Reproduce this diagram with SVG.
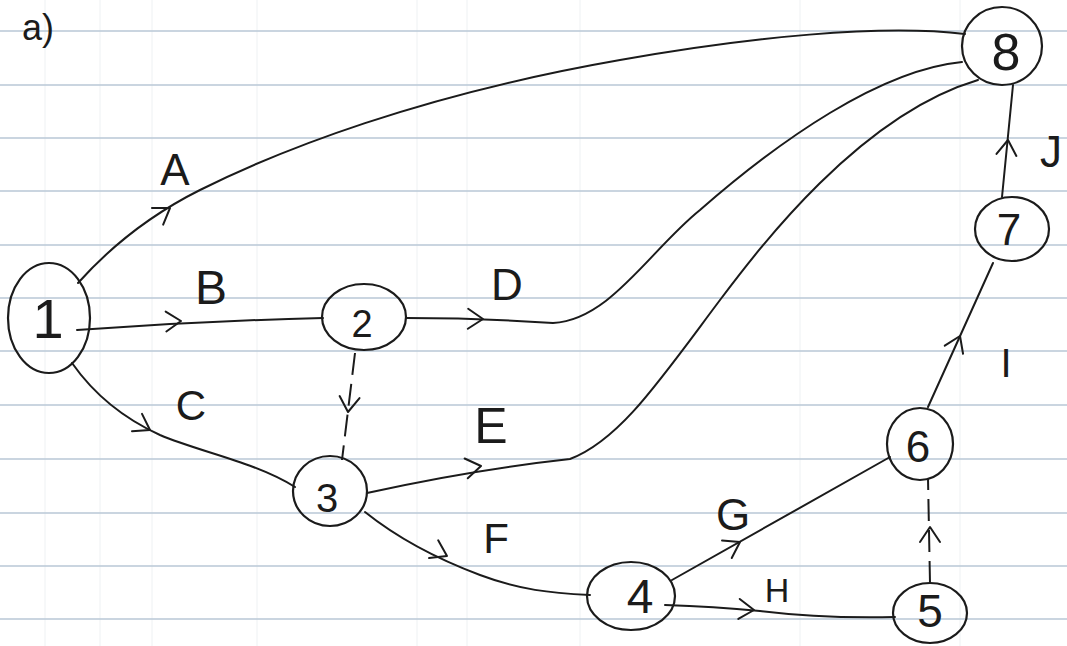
<svg xmlns="http://www.w3.org/2000/svg" xmlns:xlink="http://www.w3.org/1999/xlink" width="1067" height="646" viewBox="0 0 1067 646">
<style>
.rule{stroke:#b9c8d6;stroke-width:1.6;fill:none}
.vrule{stroke:#eef1f3;stroke-width:1;fill:none}
.node{fill:none;stroke:#1b1b1b;stroke-width:2.2}
.edge{fill:none;stroke:#1b1b1b;stroke-width:2;stroke-linecap:round}
.dash{fill:none;stroke:#1b1b1b;stroke-width:2;stroke-dasharray:22 9}
.chev{fill:none;stroke:#1b1b1b;stroke-width:2;stroke-linecap:round;stroke-linejoin:round}
.t{font-family:"Liberation Sans",Arial,sans-serif;fill:#1b1b1b;text-anchor:middle}
</style>
<defs>
<path id="chev" class="chev" d="M-15,-10 L0,0 L-15,10"/>
</defs>
<rect width="1067" height="646" fill="#ffffff"/>
<g id="paper">
<path class="vrule" d="M45,0V646M100,0V646M152,0V646M257,0V646M417,0V646M467,0V646M580,0V646M800,0V646M960,0V646"/>
<path class="rule" d="M0,31H1067M0,85H1067M0,138H1067M0,191H1067M0,245H1067M0,298H1067M0,351H1067M0,405H1067M0,459H1067M0,513H1067M0,566H1067M0,619H1067"/>
</g>
<text class="t" x="38" y="40" font-size="36">a)</text>
<g id="connectors">
<path class="edge" d="M78,283 Q130,225 200,190 C280,150 420,95 620,60 C750,37 880,24 965,34"/>
<use xlink:href="#chev" href="#chev" transform="translate(170,208) rotate(-34)"/>
<text class="t" x="175" y="185" font-size="44">A</text>
<path class="edge" d="M77,330 Q200,321 323,318"/>
<use xlink:href="#chev" href="#chev" transform="translate(181,321) rotate(-2)"/>
<text class="t" x="211" y="304" font-size="48">B</text>
<path class="edge" d="M72,363 Q105,410 160,435 C200,452 255,462 295,487"/>
<use xlink:href="#chev" href="#chev" transform="translate(150,430) rotate(30)"/>
<text class="t" x="191" y="420" font-size="42">C</text>
<path class="edge" d="M406,318 Q480,318 553,323 C610,320 650,250 700,210 C780,140 880,70 962,62"/>
<use xlink:href="#chev" href="#chev" transform="translate(483,319) rotate(1)"/>
<text class="t" x="507" y="300" font-size="44">D</text>
<path class="dash" d="M355,353 L342,460"/>
<use xlink:href="#chev" href="#chev" transform="translate(348,412) rotate(96)"/>
<path class="edge" d="M367,493 Q470,470 570,459 C620,440 660,380 720,300 C760,247 860,115 978,80"/>
<use xlink:href="#chev" href="#chev" transform="translate(481,466) rotate(-9)"/>
<text class="t" x="491" y="443" font-size="50">E</text>
<path class="edge" d="M365,512 C400,540 440,560 480,575 C520,590 550,593 590,595"/>
<use xlink:href="#chev" href="#chev" transform="translate(447,556) rotate(27)"/>
<text class="t" x="496" y="553" font-size="42">F</text>
<path class="edge" d="M672,580 L890,457"/>
<use xlink:href="#chev" href="#chev" transform="translate(740,542) rotate(-29)"/>
<text class="t" x="733" y="530" font-size="44">G</text>
<path class="edge" d="M665,605 C700,606 730,608 760,611 C800,616 850,618 895,617"/>
<use xlink:href="#chev" href="#chev" transform="translate(754,610) rotate(4)"/>
<text class="t" x="777" y="602" font-size="34">H</text>
<path class="dash" d="M930,583 L928,478"/>
<use xlink:href="#chev" href="#chev" transform="translate(930,527) rotate(-90)"/>
<path class="edge" d="M928,407 L993,263"/>
<use xlink:href="#chev" href="#chev" transform="translate(960,336) rotate(-66)"/>
<text class="t" x="1006" y="377" font-size="40">I</text>
<path class="edge" d="M1002,197 L1013,85"/>
<use xlink:href="#chev" href="#chev" transform="translate(1008,140) rotate(-84)"/>
<text class="t" x="1051" y="167" font-size="44">J</text>
</g>
<g id="node1"><ellipse class="node" cx="49" cy="318" rx="41" ry="55"/><text class="t" x="48" y="338" font-size="56">1</text></g>
<g id="node2"><ellipse class="node" cx="364" cy="317" rx="42" ry="33"/><text class="t" x="362" y="337" font-size="38">2</text></g>
<g id="node3"><ellipse class="node" cx="330" cy="491" rx="37" ry="35"/><text class="t" x="327" y="512" font-size="40">3</text></g>
<g id="node4"><ellipse class="node" cx="631" cy="596" rx="44" ry="34"/><text class="t" x="640" y="613" font-size="48">4</text></g>
<g id="node5"><ellipse class="node" cx="930" cy="613" rx="37" ry="30"/><text class="t" x="930" y="627" font-size="46">5</text></g>
<g id="node6"><ellipse class="node" cx="920" cy="444" rx="33" ry="36"/><text class="t" x="918" y="462" font-size="44">6</text></g>
<g id="node7"><ellipse class="node" cx="1012" cy="229" rx="37" ry="32"/><text class="t" x="1009" y="245" font-size="44">7</text></g>
<g id="node8"><ellipse class="node" cx="1002" cy="46" rx="40" ry="39"/><text class="t" x="1006" y="70" font-size="52">8</text></g>
</svg>
